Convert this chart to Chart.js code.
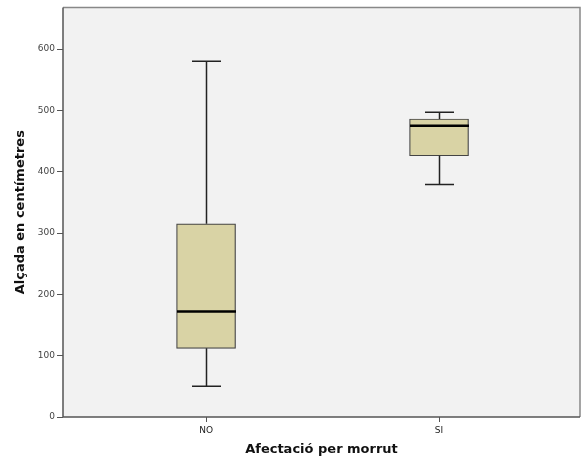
<!DOCTYPE html>
<html>
<head>
<meta charset="utf-8">
<script src="https://cdn.jsdelivr.net/npm/chart.js@4"></script>
<style>
  html, body { margin: 0; padding: 0; background: #fff; }
  #wrap { width: 581px; height: 461px; }
</style>
</head>
<body>
<div id="wrap"><canvas id="box"></canvas></div>
<script>
// ---- data ----
const groups   = ['NO', 'SI'];
const whiskLo  = [50, 379];
const q1       = [112, 426];
const median   = [172, 475];
const q3       = [315, 486];
const whiskHi  = [580, 497];
const yTicks   = [0, 100, 200, 300, 400, 500, 600];

const BOX_FILL = '#d9d3a5';
const LINE = '#222';

// background + frame + median + whiskers
const boxPlot = {
  id: 'boxPlot',
  beforeDraw(chart) {
    const a = chart.chartArea, c = chart.ctx;
    c.save();
    c.fillStyle = '#f2f2f2';
    c.fillRect(a.left, a.top, a.right - a.left, a.bottom - a.top);
    c.restore();
  },
  afterDatasetsDraw(chart) {
    const c = chart.ctx;
    const xs = chart.scales.x, ys = chart.scales.y;
    c.save();
    groups.forEach((g, i) => {
      const cx = Math.round(xs.getPixelForValue(i)) + 0.5;
      const half = 29.5, cap = 14.5;
      const yLo = ys.getPixelForValue(whiskLo[i]);
      const yQ1 = ys.getPixelForValue(q1[i]);
      const yQ3 = ys.getPixelForValue(q3[i]);
      const yHi = ys.getPixelForValue(whiskHi[i]);
      c.strokeStyle = LINE;
      c.lineWidth = 1.5;
      c.beginPath();
      c.moveTo(cx, yQ3); c.lineTo(cx, yHi);
      c.moveTo(cx - cap, yHi); c.lineTo(cx + cap, yHi);
      c.moveTo(cx, yQ1); c.lineTo(cx, yLo);
      c.moveTo(cx - cap, yLo); c.lineTo(cx + cap, yLo);
      c.stroke();
      c.lineWidth = 2.5;
      c.strokeStyle = '#000';
      const ym = ys.getPixelForValue(median[i]);
      c.beginPath();
      c.moveTo(cx - half, ym); c.lineTo(cx + half, ym);
      c.stroke();
    });
    c.restore();
  },
  afterDraw(chart) {
    const a = chart.chartArea, c = chart.ctx;
    c.save();
    c.strokeStyle = '#888';
    c.lineWidth = 1.5;
    c.beginPath();
    c.moveTo(a.left, a.top); c.lineTo(a.right, a.top); c.lineTo(a.right, a.bottom);
    c.stroke();
    c.strokeStyle = '#555';
    c.beginPath();
    c.moveTo(a.left, a.top); c.lineTo(a.left, a.bottom); c.lineTo(a.right, a.bottom);
    c.stroke();
    c.restore();
  }
};

new Chart(document.getElementById('box'), {
  type: 'bar',
  data: {
    datasets: [{
      data: groups.map((g, i) => ({ x: i, y: [q1[i], q3[i]] })),
      backgroundColor: BOX_FILL,
      borderColor: '#444',
      borderWidth: 1.2,
      borderSkipped: false,
      barThickness: 59
    }]
  },
  options: {
    responsive: true,
    maintainAspectRatio: false,
    animation: false,
    layout: { padding: { top: 6, right: 1, left: 0, bottom: 0 } },
    plugins: { legend: { display: false }, tooltip: { enabled: false } },
    scales: {
      x: {
        type: 'linear',
        offset: false,
        min: -0.614,
        max: 1.605,
        afterBuildTicks: s => { s.ticks = groups.map((g, i) => ({ value: i })); },
        afterFit: s => { s.height = 44; },
        grid: { display: true, offset: false, drawOnChartArea: false, drawTicks: true, tickLength: 5, color: '#555' },
        border: { display: false },
        ticks: {
          callback: v => groups[v],
          color: '#222',
          font: { family: 'DejaVu Sans', size: 9 },
          padding: 3,
          maxRotation: 0
        },
        title: {
          display: true,
          text: 'Afectació per morrut',
          color: '#111',
          font: { family: 'DejaVu Sans', size: 13, weight: 'bold' },
          padding: { top: 5 }
        }
      },
      y: {
        min: 0,
        max: 668,
        afterBuildTicks: s => { s.ticks = yTicks.map(v => ({ value: v })); },
        afterFit: s => { s.width = 63; },
        grid: { display: true, drawOnChartArea: false, drawTicks: true, tickLength: 6, color: '#555' },
        border: { display: false },
        ticks: {
          color: '#444',
          font: { family: 'DejaVu Sans', size: 9 },
          padding: 2
        },
        title: {
          display: true,
          text: 'Alçada en centímetres',
          color: '#111',
          font: { family: 'DejaVu Sans', size: 13, weight: 'bold' },
          padding: { top: 13, bottom: 0 }
        }
      }
    }
  },
  plugins: [boxPlot]
});
</script>
</body>
</html>
